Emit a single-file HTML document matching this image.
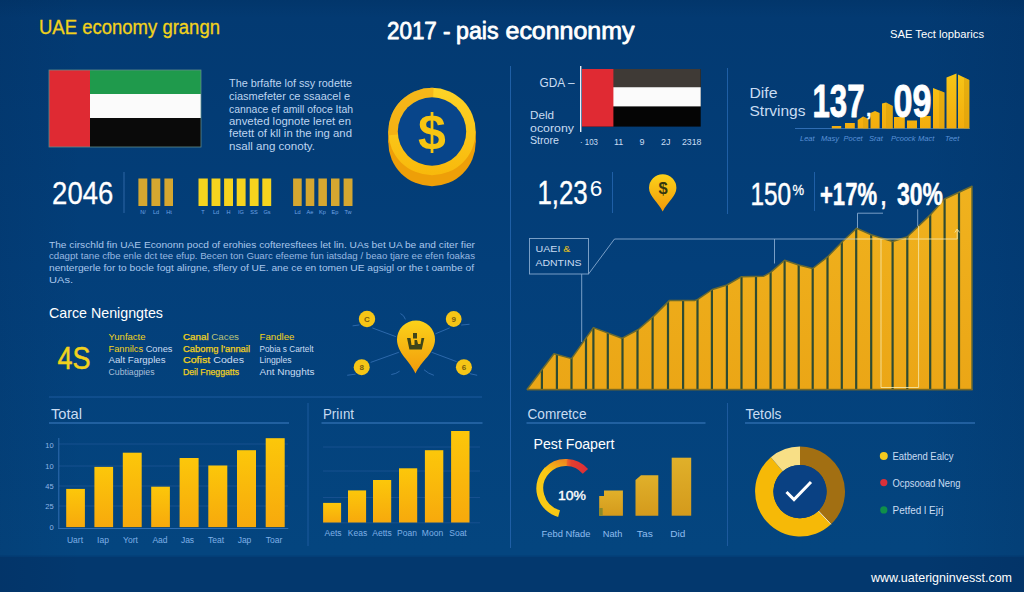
<!DOCTYPE html>
<html lang="en">
<head>
<meta charset="utf-8">
<title>UAE economy grangn</title>
<style>
html,body{margin:0;padding:0;background:#023e7a;}
body{width:1024px;height:592px;overflow:hidden;position:relative;font-family:"Liberation Sans",sans-serif;}
svg{position:absolute;left:0;top:0;display:block;}
text{font-family:"Liberation Sans",sans-serif;}
.w{fill:#ffffff;}
.y{fill:#f2d21c;}
.p{fill:#c9dcf2;}
.d{fill:#5f93cf;}
</style>
</head>
<body>
<svg width="1024" height="592" viewBox="0 0 1024 592">
<defs>
  <linearGradient id="bg" x1="0" y1="0" x2="0" y2="1">
    <stop offset="0" stop-color="#02366b"/>
    <stop offset="0.03" stop-color="#033a72"/>
    <stop offset="0.45" stop-color="#033f7a"/>
    <stop offset="0.93" stop-color="#04457f"/>
    <stop offset="1" stop-color="#04457f"/>
  </linearGradient>
  <linearGradient id="bgx" x1="0" y1="0" x2="1" y2="0">
    <stop offset="0" stop-color="#001a40" stop-opacity="0.10"/>
    <stop offset="0.08" stop-color="#001a40" stop-opacity="0"/>
    <stop offset="0.9" stop-color="#001a40" stop-opacity="0"/>
    <stop offset="1" stop-color="#001a40" stop-opacity="0.12"/>
  </linearGradient>
  <linearGradient id="bar" x1="0" y1="0" x2="0" y2="1">
    <stop offset="0" stop-color="#fcc70a"/>
    <stop offset="1" stop-color="#f7a90c"/>
  </linearGradient>
  <linearGradient id="area" x1="0" y1="0" x2="0" y2="1">
    <stop offset="0" stop-color="#f0b21e"/>
    <stop offset="1" stop-color="#eba616"/>
  </linearGradient>
  <linearGradient id="gold" x1="0" y1="0" x2="0" y2="1">
    <stop offset="0" stop-color="#e0b02a"/>
    <stop offset="1" stop-color="#d49a1c"/>
  </linearGradient>
  <linearGradient id="pin" x1="0" y1="0" x2="0" y2="1">
    <stop offset="0" stop-color="#fbd21a"/>
    <stop offset="1" stop-color="#f29a0a"/>
  </linearGradient>
  <linearGradient id="coinring" x1="0" y1="0" x2="0" y2="1">
    <stop offset="0" stop-color="#fdd327"/>
    <stop offset="1" stop-color="#f8b90b"/>
  </linearGradient>
  <linearGradient id="mini" gradientUnits="userSpaceOnUse" x1="0" y1="74" x2="0" y2="128">
    <stop offset="0" stop-color="#f7c516"/>
    <stop offset="1" stop-color="#f3ad0d"/>
  </linearGradient>
</defs>
<rect width="1024" height="592" fill="url(#bg)"/>
<rect x="0" y="556" width="1024" height="36" fill="#03386e"/>
<rect x="0" y="555.5" width="1024" height="1.5" fill="#033e77"/>
<rect width="1024" height="592" fill="url(#bgx)"/>

<!-- SECTION:HEADER -->
<text x="39" y="34" font-size="19.5" class="y" stroke="#f2d21c" stroke-width="0.3" textLength="181" lengthAdjust="spacingAndGlyphs">UAE economy grangn</text>
<g font-size="23.5" class="w" stroke="#fff" stroke-width="0.8" stroke-linejoin="round">
  <text x="387" y="38.5" textLength="63.5" lengthAdjust="spacingAndGlyphs">2017 -</text>
  <text x="456" y="38.5" textLength="42.5" lengthAdjust="spacingAndGlyphs">pais</text>
  <text x="505.5" y="38.5" textLength="129" lengthAdjust="spacingAndGlyphs">econnonmy</text>
</g>
<text x="890" y="38" font-size="11.5" class="w" textLength="94" lengthAdjust="spacingAndGlyphs">SAE Tect lopbarics</text>
<!-- SECTION:LEFTTOP -->
<g>
  <rect x="49" y="70" width="152" height="77" fill="#0a0a0a"/>
  <rect x="49" y="70" width="152" height="24" fill="#1f9a4c"/>
  <rect x="49" y="94" width="152" height="24" fill="#fbfbfb"/>
  <rect x="49" y="70" width="41" height="77" fill="#df2a33"/>
  <rect x="49" y="70" width="152" height="77" fill="none" stroke="#5f8c8c" stroke-width="0.8"/>
</g>
<g font-size="10.8" fill="#bdd4f0">
  <text x="229" y="86.6" textLength="123" lengthAdjust="spacingAndGlyphs">The brfafte lof ssy rodette</text>
  <text x="229" y="100" textLength="121" lengthAdjust="spacingAndGlyphs">ciasmefeter ce ssaacel e</text>
  <text x="229" y="112.5" textLength="124" lengthAdjust="spacingAndGlyphs">cannace ef amill ofoce Itah</text>
  <text x="229" y="125" textLength="122" lengthAdjust="spacingAndGlyphs">anveted lognote leret en</text>
  <text x="229" y="137.3" textLength="123" lengthAdjust="spacingAndGlyphs">fetett of kll in the ing and</text>
  <text x="229" y="149.8" textLength="86" lengthAdjust="spacingAndGlyphs">nsall ang conoty.</text>
</g>
<!-- coin -->
<g>
  <circle cx="432" cy="142.5" r="43.7" fill="#ee9f08"/>
  <rect x="388.3" y="131.5" width="87.4" height="11" fill="#ee9f08"/>
  <circle cx="432" cy="131.5" r="43.7" fill="url(#coinring)"/>
  <path d="M388.47 135.31 A43.7 43.7 0 0 1 433.53 87.83 L433.19 97.32 A34.2 34.2 0 0 0 397.93 134.48 Z" fill="#eea010" opacity="0.55"/>
  <circle cx="432" cy="131.5" r="34.2" fill="#08458a"/>
  <text x="432" y="149" font-size="50" font-weight="bold" text-anchor="middle" fill="#f7c511">$</text>
</g>
<text x="52.1" y="204.3" font-size="32.2" class="w" stroke="#fff" stroke-width="0.3" textLength="61.2" lengthAdjust="spacingAndGlyphs">2046</text>
<rect x="123.5" y="172" width="1" height="41" fill="#2f66a6"/>
<g fill="#d5a730">
  <rect x="138.4" y="178.5" width="8.9" height="27.5"/>
  <rect x="151.4" y="178.5" width="8.9" height="27.5"/>
  <rect x="164.4" y="178.5" width="8.6" height="27.5"/>
</g>
<g fill="#f6d41e">
  <rect x="198.5" y="178.5" width="9.3" height="27.5"/>
  <rect x="211.5" y="178.5" width="8.9" height="27.5"/>
  <rect x="224.1" y="178.5" width="8.9" height="27.5"/>
  <rect x="236.7" y="178.5" width="8.9" height="27.5"/>
  <rect x="249.7" y="178.5" width="8.9" height="27.5"/>
  <rect x="262.3" y="178.5" width="8.9" height="27.5"/>
</g>
<g fill="#d5a730">
  <rect x="293.1" y="178.5" width="8.6" height="27.5"/>
  <rect x="305.7" y="178.5" width="8.6" height="27.5"/>
  <rect x="318.4" y="178.5" width="8.5" height="27.5"/>
  <rect x="331" y="178.5" width="8.5" height="27.5"/>
  <rect x="343.6" y="178.5" width="8.9" height="27.5"/>
</g>
<g font-size="5.6" fill="#6ea3e4" text-anchor="middle">
  <text x="143" y="213.5">N/</text><text x="156" y="213.5">Ld</text><text x="169" y="213.5">Ht</text>
  <text x="203" y="213.5">T</text><text x="216" y="213.5">Ld</text><text x="228.5" y="213.5">H</text><text x="241" y="213.5">IG</text><text x="254" y="213.5">SS</text><text x="267" y="213.5">Gs</text>
  <text x="297.5" y="213.5">Ld</text><text x="310" y="213.5">Ae</text><text x="322.5" y="213.5">Kp</text><text x="335" y="213.5">Ep</text><text x="348" y="213.5">Tw</text>
</g>
<!-- SECTION:LEFTMID -->
<g font-size="9.9" fill="#a9c7ec">
  <text x="49" y="247.6" textLength="426" lengthAdjust="spacingAndGlyphs">The cirschld fin UAE Econonn pocd of erohies cofteresftees let lin. UAs bet UA be and citer fier</text>
  <text x="49" y="259.2" fill="#98b9e2" textLength="426" lengthAdjust="spacingAndGlyphs">cdagpt tane cfbe enle dct tee efup. Becen ton Guarc efeeme fun iatsdag / beao tjare ee efen foakas</text>
  <text x="49" y="271" textLength="425" lengthAdjust="spacingAndGlyphs">nentergerle for to bocle fogt alirgne, sflery of UE. ane ce en tomen  UE agsigl or the t oambe of</text>
  <text x="49" y="282.5" textLength="24" lengthAdjust="spacingAndGlyphs">UAs.</text>
</g>
<text x="49" y="317.7" font-size="15" class="w" textLength="114" lengthAdjust="spacingAndGlyphs">Carce Nenigngtes</text>
<text x="57.5" y="368.5" font-size="31" class="y" stroke="#f2d21c" stroke-width="0.5" textLength="33" lengthAdjust="spacingAndGlyphs">4S</text>
<g font-size="9.6" stroke-width="0.25">
  <text x="108.5" y="339.5" class="y" textLength="37" lengthAdjust="spacingAndGlyphs">Yunfacte</text>
  <text x="108.5" y="351.5" textLength="64" lengthAdjust="spacingAndGlyphs"><tspan class="y">Fannilcs</tspan><tspan class="p"> Cones</tspan></text>
  <text x="108.5" y="363" class="p" textLength="57" lengthAdjust="spacingAndGlyphs">Aalt Fargples</text>
  <text x="108.5" y="374.5" fill="#a9bfd8" textLength="46" lengthAdjust="spacingAndGlyphs">Cubtiagpies</text>

  <text x="183" y="339.5" textLength="56" lengthAdjust="spacingAndGlyphs"><tspan class="y" stroke="#f2d21c">Canal</tspan><tspan fill="#b9c27a"> Caces</tspan></text>
  <text x="183" y="351.5" class="y" stroke="#f2d21c" textLength="67" lengthAdjust="spacingAndGlyphs">Cabomg l'annail</text>
  <text x="183" y="363" textLength="61" lengthAdjust="spacingAndGlyphs"><tspan class="y" stroke="#f2d21c">Cofist</tspan><tspan class="p"> Codes</tspan></text>
  <text x="183" y="374.5" class="y" stroke="#f2d21c" textLength="56" lengthAdjust="spacingAndGlyphs">Deil Fneggatts</text>

  <text x="259.5" y="339.5" class="y" textLength="35" lengthAdjust="spacingAndGlyphs">Fandlee</text>
  <text x="259.5" y="351.5" class="p" textLength="54" lengthAdjust="spacingAndGlyphs">Pobia s Cartelt</text>
  <text x="259.5" y="363" class="p" textLength="32" lengthAdjust="spacingAndGlyphs">Lingples</text>
  <text x="259.5" y="374.5" class="p" textLength="55" lengthAdjust="spacingAndGlyphs">Ant Nngghts</text>
</g>
<!-- pin network -->
<g stroke="#2c68ab" stroke-width="1" fill="none" stroke-linecap="round">
  <path d="M372.7 328.1 L395.5 336.5"/>
  <path d="M435.7 333.7 L449.4 328"/>
  <path d="M371 362.3 L398.5 352.4"/>
  <path d="M432 352.4 L456.3 361.5"/>
  <path d="M400.8 313.7 Q404 315 405.3 319"/>
  <path d="M391.7 374.5 Q396 374 399.3 371.4"/>
  <path d="M424.3 370 Q428 373.5 433.5 375.2"/>
  <path d="M353 325.8 L359 325"/>
  <path d="M461.6 325 L469.2 324.3"/>
  <path d="M347.6 375.2 L355.2 374.2"/>
  <path d="M470 373.7 L476.8 375.2"/>
</g>
<g fill="#f6c516">
  <circle cx="367" cy="319" r="8.2"/>
  <circle cx="453.7" cy="319" r="7.9"/>
  <circle cx="361.7" cy="367.2" r="8"/>
  <circle cx="463.9" cy="367.2" r="8"/>
</g>
<g font-size="8" font-weight="bold" fill="#7a5d10" text-anchor="middle">
  <text x="367" y="322">C</text><text x="453.7" y="322">9</text><text x="361.7" y="370">8</text><text x="463.9" y="370">6</text>
</g>
<path d="M415.5 373.5 C 410 361, 397 353, 397 339.5 A 19 19 0 0 1 435 339.5 C 435 353, 421 361, 415.5 373.5 Z" fill="url(#pin)"/>
<path d="M407 338 L410.5 338 L411.5 345 L414.5 345 L414.5 340 L417 340 L418 344 L420.5 344 L421.5 338 L424.3 338 L421.8 349.4 L409.4 349.4 Z M413 333 H417 V338.5 H413 Z" fill="#3f4519"/>
<rect x="49" y="396.5" width="433" height="1" fill="#1d5a9e"/>
<!-- SECTION:LEFTBOTTOM -->
<text x="51" y="419" font-size="15" class="p" textLength="31" lengthAdjust="spacingAndGlyphs">Total</text>
<rect x="49" y="422.5" width="240" height="1" fill="#3f7fc4"/>
<g stroke="#17508f" stroke-width="1">
  <line x1="59" y1="444" x2="288" y2="444"/>
  <line x1="59" y1="466" x2="288" y2="466"/>
  <line x1="59" y1="486" x2="288" y2="486"/>
  <line x1="59" y1="506" x2="288" y2="506"/>
</g>
<rect x="58.3" y="438" width="1" height="91" fill="#2f6db3"/>
<rect x="58.3" y="528" width="230" height="1" fill="#2f6db3"/>
<g fill="url(#bar)">
  <rect x="66.2" y="488.9" width="18.7" height="38.2"/>
  <rect x="94.4" y="466.9" width="18.7" height="60.2"/>
  <rect x="122.8" y="452.7" width="18.9" height="74.4"/>
  <rect x="151.2" y="486.7" width="18.7" height="40.4"/>
  <rect x="179.6" y="458" width="19" height="69.1"/>
  <rect x="208.3" y="465.5" width="19" height="61.6"/>
  <rect x="237" y="450.2" width="19" height="76.9"/>
  <rect x="265.7" y="438.2" width="19" height="88.9"/>
</g>
<g font-size="7.5" fill="#8fb6e6" text-anchor="middle">
  <text x="49.5" y="447.5">10</text><text x="49.5" y="468.5">10</text><text x="49.5" y="489">45</text><text x="49.5" y="509">25</text><text x="51.5" y="530">0</text>
</g>
<g font-size="8.5" fill="#7fb0e6" text-anchor="middle">
  <text x="75" y="542.5">Uart</text><text x="103" y="542.5">Iap</text><text x="130.5" y="542.5">Yort</text><text x="160" y="542.5">Aad</text><text x="187.5" y="542.5">Jas</text><text x="216" y="542.5">Teat</text><text x="244.5" y="542.5">Jap</text><text x="274" y="542.5">Toar</text>
</g>

<rect x="307.5" y="403" width="1" height="143" fill="#1d5a9e"/>
<text x="323" y="419" font-size="15" class="p" textLength="31" lengthAdjust="spacingAndGlyphs">Priınt</text>
<rect x="321.5" y="422.5" width="161" height="1" fill="#3f7fc4"/>
<g stroke="#17508f" stroke-width="1">
  <line x1="323" y1="447" x2="480" y2="447"/>
  <line x1="323" y1="471" x2="480" y2="471"/>
  <line x1="323" y1="497.5" x2="480" y2="497.5"/>
  <line x1="323" y1="522.8" x2="480" y2="522.8"/>
</g>
<g fill="url(#bar)">
  <rect x="323.1" y="502.9" width="18" height="19.6"/>
  <rect x="348" y="490.4" width="18.1" height="32.1"/>
  <rect x="373" y="480" width="18.2" height="42.5"/>
  <rect x="399" y="468.3" width="18.2" height="54.2"/>
  <rect x="424.9" y="450.2" width="18.4" height="72.3"/>
  <rect x="451.1" y="431" width="18.4" height="91.5"/>
</g>
<g font-size="8.5" fill="#7fb0e6" text-anchor="middle">
  <text x="333" y="536">Aets</text><text x="357.5" y="536">Keas</text><text x="382" y="536">Aetts</text><text x="407" y="536">Poan</text><text x="432.5" y="536">Moon</text><text x="458" y="536">Soat</text>
</g>
<!-- SECTION:RIGHTTOP -->
<rect x="510" y="66" width="1" height="482" fill="#1f5fa6"/>
<rect x="727" y="68" width="1" height="146" fill="#1f5fa6"/>
<rect x="612" y="172" width="1" height="41" fill="#1f5fa6"/>
<text x="539.5" y="87" font-size="12.5" class="p" textLength="35" lengthAdjust="spacingAndGlyphs">GDA –</text>
<g font-size="11.5" class="p">
  <text x="530" y="118.5" textLength="24" lengthAdjust="spacingAndGlyphs">Deld</text>
  <text x="530" y="131.5" textLength="44" lengthAdjust="spacingAndGlyphs">ocorony</text>
  <text x="530" y="144" textLength="29" lengthAdjust="spacingAndGlyphs">Strore</text>
</g>
<rect x="580" y="66" width="1.4" height="66" fill="#e8eef6"/>
<g>
  <rect x="582" y="69" width="118.7" height="57.6" fill="#050505"/>
  <rect x="582" y="69" width="118.7" height="18.2" fill="#3f3a36"/>
  <rect x="582" y="87.2" width="118.7" height="19.2" fill="#fbfbfb"/>
  <rect x="582" y="69" width="31.4" height="57.6" fill="#e02a33"/>
</g>
<g font-size="9" class="p">
  <text x="580" y="144.5" textLength="18" lengthAdjust="spacingAndGlyphs">· 103</text>
  <text x="614" y="144.5">11</text>
  <text x="639.5" y="144.5">9</text>
  <text x="661" y="144.5">2J</text>
  <text x="682" y="144.5" textLength="19.5" lengthAdjust="spacingAndGlyphs">2318</text>
</g>
<text x="537.4" y="203.5" font-size="33.5" class="w" stroke="#fff" stroke-width="0.4" textLength="50.3" lengthAdjust="spacingAndGlyphs">1,23</text>
<text x="589.8" y="195.8" font-size="22.5" class="w">6</text>
<path d="M662.7 211.5 C 658 202, 649 196, 649 188 A 13.7 13.7 0 0 1 676.4 188 C 676.4 196, 667.4 202, 662.7 211.5 Z" fill="url(#pin)"/>
<text x="663" y="194.2" font-size="16.5" font-weight="bold" fill="#343610" text-anchor="middle">$</text>

<text x="749.5" y="98" font-size="15.5" class="p" textLength="28" lengthAdjust="spacingAndGlyphs">Dife</text>
<text x="749.5" y="116" font-size="15.5" class="p" textLength="56" lengthAdjust="spacingAndGlyphs">Strvings</text>
<!-- mini bar chart -->
<rect x="795" y="128" width="175" height="1" fill="#2f6db3"/>
<g fill="url(#mini)">
  <rect x="831.8" y="126" width="9.4" height="2.4"/>
  <rect x="845" y="123" width="9.8" height="5.4"/>
  <path d="M857.7 128.4 V120 L863 116.5 L868.3 119 V128.4 Z"/>
  <path d="M870.5 128.4 V113 L875 111 L879.6 113 V128.4 Z"/>
  <path d="M882 128.4 V103.5 L886 102.5 L892.7 106 V128.4 Z"/>
  <rect x="894" y="117" width="10.8" height="11.4"/>
  <rect x="907" y="120.5" width="10" height="7.9"/>
  <rect x="920" y="116" width="10.7" height="12.4"/>
  <path d="M933 128.4 V88 L944.4 92.5 V128.4 Z"/>
  <path d="M946.5 128.4 V77.5 L956.5 73.5 V128.4 Z"/>
  <path d="M958 128.4 V74.5 L969.3 80 V128.4 Z"/>
</g>
<g fill="#d9a00c" opacity="0.55">
  <path d="M863 128.4 V116.5 L868.3 119 V128.4 Z"/>
  <path d="M886 128.4 V102.5 L892.7 106 V128.4 Z"/>
  <path d="M939 128.4 V90.3 L944.4 92.5 V128.4 Z"/>
  <path d="M964 128.4 V77.5 L969.3 80 V128.4 Z"/>
</g>
<g font-size="7.5" fill="#5a92d8" font-style="italic">
  <text x="800" y="140.5">Leat</text><text x="821" y="140.5">Masy</text><text x="843.5" y="140.5">Pocet</text><text x="869" y="140.5">Srat</text><text x="891" y="140.5">Pcoock</text><text x="918" y="140.5">Mact</text><text x="945" y="140.5">Teet</text>
</g>
<g font-weight="bold" class="w" font-size="46" stroke="#fff" stroke-width="0.9" stroke-linejoin="round">
  <text x="812.5" y="117" textLength="52" lengthAdjust="spacingAndGlyphs">137</text>
  <text x="866" y="116" font-size="20" stroke-width="0.3">,</text>
  <text x="893.5" y="117" textLength="38" lengthAdjust="spacingAndGlyphs">09</text>
</g>

<text x="750.4" y="205" font-size="32" class="w" stroke="#fff" stroke-width="0.5" textLength="40.6" lengthAdjust="spacingAndGlyphs">150</text>
<text x="792.6" y="195" font-size="15" class="w" stroke="#fff" stroke-width="0.3" textLength="11.6" lengthAdjust="spacingAndGlyphs">%</text>
<rect x="814" y="172" width="1" height="39" fill="#1f5fa6"/>
<!-- SECTION:AREA -->
<clipPath id="areaclip"><polygon points="526.8,389.7 554,353.8 571.5,358.6 593.4,327.6 621.9,338.3 638.4,329.5 654,315.9 669.5,300.4 694.8,300.4 697.4,299.6 712.3,289.5 726.9,285 741.5,276.7 763.4,276.3 770.6,272.4 784.6,260.2 798.7,265 812.7,268.5 827.5,256.9 841.8,242.3 856.6,228.2 871.2,234.7 892.6,241.5 907.3,236.7 930.2,214.9 944.6,199 959,192.3 972,186.2 972,389.7"/></clipPath>
<polygon points="526.8,389.7 554,353.8 571.5,358.6 593.4,327.6 621.9,338.3 638.4,329.5 654,315.9 669.5,300.4 694.8,300.4 697.4,299.6 712.3,289.5 726.9,285 741.5,276.7 763.4,276.3 770.6,272.4 784.6,260.2 798.7,265 812.7,268.5 827.5,256.9 841.8,242.3 856.6,228.2 871.2,234.7 892.6,241.5 907.3,236.7 930.2,214.9 944.6,199 959,192.3 972,186.2 972,389.7" fill="url(#area)"/>
<g clip-path="url(#areaclip)" stroke="#2e4b33" stroke-width="2.2"><line x1="541.9" y1="180" x2="541.9" y2="390"/><line x1="556.9" y1="180" x2="556.9" y2="390"/><line x1="571.5" y1="180" x2="571.5" y2="390"/><line x1="586" y1="180" x2="586" y2="390"/><line x1="593.4" y1="180" x2="593.4" y2="390"/><line x1="607.8" y1="180" x2="607.8" y2="390"/><line x1="622.5" y1="180" x2="622.5" y2="390"/><line x1="637.5" y1="180" x2="637.5" y2="390"/><line x1="652.6" y1="180" x2="652.6" y2="390"/><line x1="668" y1="180" x2="668" y2="390"/><line x1="683.1" y1="180" x2="683.1" y2="390"/><line x1="697.5" y1="180" x2="697.5" y2="390"/><line x1="711.9" y1="180" x2="711.9" y2="390"/><line x1="726.9" y1="180" x2="726.9" y2="390"/><line x1="741.5" y1="180" x2="741.5" y2="390"/><line x1="756" y1="180" x2="756" y2="390"/><line x1="770.6" y1="180" x2="770.6" y2="390"/><line x1="784.6" y1="180" x2="784.6" y2="390"/><line x1="798.7" y1="180" x2="798.7" y2="390"/><line x1="812.7" y1="180" x2="812.7" y2="390"/><line x1="827.5" y1="180" x2="827.5" y2="390"/><line x1="841.8" y1="180" x2="841.8" y2="390"/><line x1="856.2" y1="180" x2="856.2" y2="390"/><line x1="871.2" y1="180" x2="871.2" y2="390"/><line x1="892.6" y1="180" x2="892.6" y2="390"/><line x1="907.3" y1="180" x2="907.3" y2="390"/><line x1="930.2" y1="180" x2="930.2" y2="390"/><line x1="944.6" y1="180" x2="944.6" y2="390"/><line x1="959" y1="180" x2="959" y2="390"/></g>
<polyline points="526.8,389.7 554,353.8 571.5,358.6 593.4,327.6 621.9,338.3 638.4,329.5 654,315.9 669.5,300.4 694.8,300.4 697.4,299.6 712.3,289.5 726.9,285 741.5,276.7 763.4,276.3 770.6,272.4 784.6,260.2 798.7,265 812.7,268.5 827.5,256.9 841.8,242.3 856.6,228.2 871.2,234.7 892.6,241.5 907.3,236.7 930.2,214.9 944.6,199 959,192.3 972,186.2 972,389.7" fill="none" stroke="#6a6a30" stroke-width="1.5" stroke-linejoin="round"/>
<rect x="527" y="388.8" width="445.7" height="1.6" fill="#7a6a24"/>
<!-- annotation lines -->
<g fill="none" stroke="#b9d2f0" stroke-width="0.9" opacity="0.72">
  <rect x="529.5" y="238.5" width="59" height="35.5"/>
  <path d="M588.5 274 L614.5 239 H856"/>
  <path d="M581.7 274 V342"/>
  <path d="M774.5 239 V263.5"/>
  <path d="M857.5 228 V213.2 H883"/>
  <path d="M917.7 209.4 V226"/>
</g>
<g fill="none" stroke="#f6e7a8" stroke-width="1" opacity="0.85">
  <path d="M856 239 H957.2 V229 M954.8 232.5 L957.2 229 L959.6 232.5"/>
  <path d="M881 239 V387.5 H918.6 V226"/>
</g>
<text x="535.5" y="251.5" font-size="9.5" class="p" textLength="35" lengthAdjust="spacingAndGlyphs">UAEI <tspan fill="#e8c21c">&amp;</tspan></text>
<text x="535.5" y="265.5" font-size="9.5" class="p" textLength="46" lengthAdjust="spacingAndGlyphs">ADNTINS</text>
<g font-weight="bold" class="w" font-size="32" stroke="#fff" stroke-width="0.5" stroke-linejoin="round">
  <text x="820" y="204.5" textLength="57" lengthAdjust="spacingAndGlyphs">+17%</text>
  <text x="881" y="204.5" font-size="26" textLength="5" lengthAdjust="spacingAndGlyphs">,</text>
  <text x="897" y="204.5" textLength="46" lengthAdjust="spacingAndGlyphs">30%</text>
</g>
<!-- SECTION:RIGHTBOTTOM -->
<rect x="727" y="403" width="1" height="143" fill="#1d5a9e"/>
<text x="527.5" y="419" font-size="15" class="p" textLength="59" lengthAdjust="spacingAndGlyphs">Comretce</text>
<rect x="526.5" y="422.5" width="179" height="1" fill="#3f7fc4"/>
<text x="533.5" y="449.2" font-size="15.5" class="w" textLength="81" lengthAdjust="spacingAndGlyphs">Pest Foapert</text>
<defs>
  <linearGradient id="gg2" x1="0" y1="1" x2="1" y2="0"><stop offset="0" stop-color="#f8c414"/><stop offset="1" stop-color="#ef8a1e"/></linearGradient>
  <linearGradient id="gg3" x1="0" y1="0" x2="1" y2="0"><stop offset="0" stop-color="#ec6a28"/><stop offset="0.25" stop-color="#e5402f"/><stop offset="1" stop-color="#dc2f38"/></linearGradient>
</defs>
<g fill="none" stroke-width="7">
  <path d="M559.07 513.51 A26 26 0 0 1 547.42 470.02" stroke="#f8c915"/>
  <path d="M546.78 470.67 A26 26 0 0 1 567.61 462.46" stroke="url(#gg2)"/>
  <path d="M566.71 462.42 A26 26 0 0 1 585.42 471.34" stroke="url(#gg3)"/>
</g>
<text x="558" y="499.5" font-size="12.5" class="w" stroke="#fff" stroke-width="0.35" textLength="28" lengthAdjust="spacingAndGlyphs">10%</text>
<g fill="url(#gold)">
  <path d="M599.2 515.7 V496 H604 V490.6 H622.9 V515.7 Z"/>
  <path d="M635.5 515.7 V480 L641 475.3 H658.3 V515.7 Z"/>
  <rect x="671.7" y="457.7" width="19.5" height="58"/>
</g>
<rect x="599.2" y="508" width="3.5" height="7.7" fill="#8a8a2a"/>
<g font-size="8.8" fill="#8fbdf0">
  <text x="541.5" y="536.5" textLength="49" lengthAdjust="spacingAndGlyphs">Febd Nfade</text>
  <text x="602.8" y="536.5" textLength="19.5" lengthAdjust="spacingAndGlyphs">Nath</text>
  <text x="636.8" y="536.5" textLength="16" lengthAdjust="spacingAndGlyphs">Tas</text>
  <text x="670.3" y="536.5" textLength="15" lengthAdjust="spacingAndGlyphs">Did</text>
</g>

<text x="745.5" y="419" font-size="15" class="p" textLength="36" lengthAdjust="spacingAndGlyphs">Tetols</text>
<rect x="745" y="422.5" width="230" height="1" fill="#3f7fc4"/>
<path d="M800.00 446.60 A45 45 0 0 1 830.98 524.24 L818.31 510.89 A26.6 26.6 0 0 0 800.00 465.00 Z" fill="#a26f12"/>
<path d="M830.98 524.24 A45 45 0 1 1 770.83 457.33 L782.76 471.34 A26.6 26.6 0 1 0 818.31 510.89 Z" fill="#f6b907"/>
<path d="M770.83 457.33 A45 45 0 0 1 800.00 446.60 L800.00 465.00 A26.6 26.6 0 0 0 782.76 471.34 Z" fill="#f8df86"/>
<line x1="818.31" y1="510.89" x2="830.98" y2="524.24" stroke="#f3efe0" stroke-width="0.9"/>
<circle cx="800" cy="491.6" r="26.6" fill="#0a4183"/>
<path d="M786.5 492 L794 499.5 L811 482" fill="none" stroke="#ffffff" stroke-width="3"/>
<circle cx="883.8" cy="456" r="4" fill="#f2c81e"/>
<circle cx="883.8" cy="482.6" r="3.6" fill="#d9303a"/>
<circle cx="883.8" cy="509.9" r="3.6" fill="#0f8f4a"/>
<g font-size="10.5" class="p">
  <text x="892.5" y="460" textLength="61" lengthAdjust="spacingAndGlyphs">Eatbend Ealcy</text>
  <text x="892.5" y="486.5" textLength="68" lengthAdjust="spacingAndGlyphs">Ocpsooad Neng</text>
  <text x="892.5" y="514" textLength="51" lengthAdjust="spacingAndGlyphs">Petfed l Ejrj</text>
</g>
<!-- SECTION:FOOTER -->
<text x="871" y="581.5" font-size="13.2" class="w" textLength="141" lengthAdjust="spacingAndGlyphs">www.uaterigninvesst.com</text>
</svg>
</body>
</html>
